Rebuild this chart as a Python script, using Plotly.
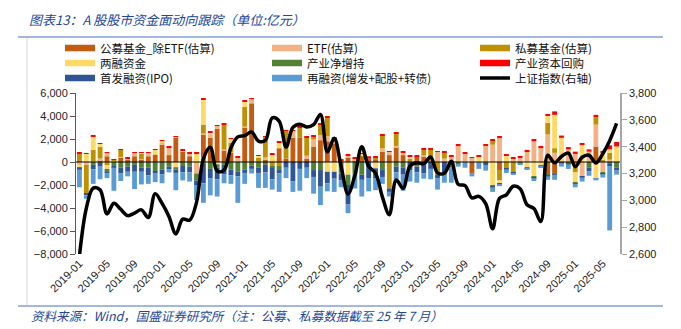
import plotly.graph_objects as go

# Monthly categories 2019-01 .. 2025-07
months = [f"{y}-{m:02d}" for y in range(2019, 2026) for m in range(1, 13)][:79]
tick_labels = months[::4]

# Fund flows, 亿元
gm = [0, 0, 0, 150, 500, 0, 350, 200, 500, 200, 500, 650,
      1500, 600, 2100, 950, 500, 0, 2400, 2100, 2900, 1000, 800, 0,
      3000, 5100, 0, 200, 0, 1200, 300, 2100, 2100, 300, 1350, 1900,
      1800, 1600, 0, 400, 150, 450, 300, 250, 900, 600, 1300, 600,
      0, 500, 500, 0, 0, 0, 0, 0, 0, -950, 0, 0,
      0, -700, 0, 0, 0, 0, 0, 0, -1100, -1000, 0, 0,
      0, 0, 0, 1350, 0, 0, 0]
etf = [-300, -250, 60, 150, 300, 150, 100, 100, 300, 50, 300, 0,
       200, 700, 100, 0, 250, -1000, 100, 300, 250, 100, 100, 400,
       100, 400, 0, 200, 100, 0, 0, 600, 0, 250, 600, 450,
       450, 450, 0, 150, 150, 0, 0, 0, 300, 300, 100, 200,
       0, 0, 100, 0, 900, 300, 500, 1450, 750, 350, 0, 1450,
       1500, 2100, 0, 300, 350, 950, 1800, 1200, 2400, 800, 100, 1100,
       700, -1250, 900, 1900, -900, 200, 0]
sm = [750, -2500, 1000, 1000, -300, 50, 600, 0, 0, 500, 0, 0,
      0, 0, 0, 0, 0, 0, 750, 0, 0, 2200, 800, 0,
      1700, 0, 400, 1800, -400, -300, 2400, 0, 900, 1600, 300, 900,
      1600, 0, 150, 0, 0, 100, 0, 150, 1100, -2300, 1100, 0,
      300, 0, 500, 1100, -1100, 500, 0, 0, 0, 0, 0, 0,
      400, -900, -600, -900, 0, 0, 0, 0, 1000, 400, 0, 0,
      -900, 0, 0, 650, 200, 600, 0]
rz = [-200, 700, 1200, 300, -300, 0, 0, 0, 0, 50, 0, 400,
      150, 0, -450, 50, 0, 750, 2200, 200, -200, 0, 300, 0,
      500, 0, 150, 0, 550, 500, 0, 0, 0, 0, 0, 0,
      -850, -850, 0, -1100, 0, 150, 0, -550, 0, 0, 0, 0,
      200, 0, 0, 0, 0, 0, 0, 0, 0, 0, 500, 0,
      -2000, -300, 600, 0, 0, -500, -1300, -300, 600, 2900, 2000, 0,
      -900, 1500, 0, -1400, 600, 300, 1350]
cy = [-50, 0, -250, -100, -200, -350, -500, -400, -250, -500, -500, -800,
      -650, -400, -200, -350, -400, -600, -150, -600, -300, -250, -650, -850,
      -650, -300, -500, -250, -100, -400, 0, 0, 0, 0, -700, -700,
      0, 0, -1000, -900, -1000, -1100, 0, 0, -700, 0, -400, -500,
      0, -400, 0, 0, 0, 0, -500, -250, 0, 0, 0, -100,
      -100, 0, 0, -50, -100, -50, -50, -50, -100, -50, -50, -100,
      -50, -50, -500, 0, -100, -200, -500]
hg = [80, 60, 50, 50, 40, 50, 40, 50, 50, 50, 50, 80,
      50, 50, 50, 50, 50, 50, 50, 50, 50, 50, 50, 50,
      50, 60, 50, 50, 50, 100, 50, 80, 100, 50, 100, 100,
      100, 50, 50, 80, 50, 80, 200, 80, 100, 50, 100, 100,
      50, 50, 50, 50, 50, 80, 50, 80, 60, 80, 50, 100,
      100, 100, 100, 100, 100, 100, 200, 200, 150, 300, 200, 200,
      200, 150, 200, 200, 150, 350, 400]
ipo = [-100, -150, -400, -300, -200, -150, -500, -450, -600, -350, -650, -150,
       -400, -250, -300, -550, -500, -400, -1700, -800, -1000, -800, -500, -400,
       -300, -300, -450, -650, -1000, -300, -500, -1700, -600, -500, -600, -1450,
       -1000, -600, -600, -1700, 0, -450, -1400, -900, -600, -300, -500, -600,
       -700, -500, -1000, -600, -300, -900, 0, 0, 0, 0, 0, -150,
       -100, -50, -50, -50, -30, -30, -50, -30, -50, -50, -50, -100,
       -50, -50, -300, -50, -50, -150, -250]
zrz = [-1550, -300, -1250, -1100, -400, -2000, -650, -400, -1500, -1100, -750, -800,
       -800, -250, -1500, -700, -800, -1300, -1700, -1500, -1500, -800, -750, -2300,
       -950, -400, -1300, -1350, -900, -1600, -900, -900, -1900, -900, -1450, -1600,
       -700, -1150, -600, -750, -1300, -1450, -1150, -1000, -600, -400, -900, -1400,
       -1000, -900, -450, -900, -1000, -900, -1300, -150, -500, -300, -600, -500,
       -400, -150, -300, -100, -100, -100, -250, -100, -300, -450, -300, -400,
       -300, -350, -400, -150, -300, -5600, -350]

# 上证指数 month-end close
sh = [2585, 2941, 3091, 3078, 2899, 2979, 2933, 2886, 2905, 2929, 2872, 3050,
      2977, 2880, 2750, 2860, 2852, 2985, 3310, 3396, 3218, 3225, 3392, 3473,
      3483, 3509, 3442, 3447, 3615, 3591, 3397, 3544, 3568, 3547, 3564, 3640,
      3361, 3462, 3253, 3047, 3186, 3399, 3253, 3202, 3024, 2893, 3151, 3089,
      3256, 3280, 3273, 3323, 3205, 3202, 3291, 3120, 3110, 3018, 3030, 2975,
      2789, 3015, 3041, 3105, 3087, 2967, 2939, 2842, 3336, 3280, 3327, 3352,
      3251, 3321, 3336, 3279, 3347, 3444, 3573]

series = [
    ("公募基金_除ETF(估算)", gm, "#C55A11"),
    ("ETF(估算)", etf, "#F4B183"),
    ("私募基金(估算)", sm, "#BF9000"),
    ("两融资金", rz, "#FFD966"),
    ("产业净增持", cy, "#548235"),
    ("产业资本回购", hg, "#FF0000"),
    ("首发融资(IPO)", ipo, "#2F5597"),
    ("再融资(增发+配股+转债)", zrz, "#5B9BD5"),
]
line_name = "上证指数(右轴)"

W, H = 681, 329
ML, MR, MT, MB = 76, 61, 93, 75
PW = W - ML - MR
PH = H - MT - MB


def fx(px):
    return (px - ML) / PW


def fy(py):
    return (H - MB - py) / PH


fig = go.Figure()
for name, vals, color in series:
    fig.add_trace(go.Bar(x=months, y=vals, name=name, showlegend=False,
                         marker=dict(color=color, line=dict(width=0))))
fig.add_trace(go.Scatter(x=months, y=sh, name=line_name, yaxis="y2", mode="lines",
                         showlegend=False,
                         line=dict(color="black", width=3.5, shape="spline", smoothing=1.0)))

shapes = []
annotations = []
CJK = "Noto Sans CJK SC"
BLUE = "#24479A"

# legend drawn as a 3x3 grid: swatches as shapes, one text block per column
col_x = [65, 272, 480]
row_y = [48, 63, 78]
entries = [(n, c, 6.5) for n, _, c in series] + [(line_name, "black", 3.5)]
for k, (name, color, lw) in enumerate(entries):
    x0 = col_x[k % 3]
    y0 = row_y[k // 3]
    shapes.append(dict(type="line", xref="paper", yref="paper",
                       x0=fx(x0), x1=fx(x0 + 30), y0=fy(y0), y1=fy(y0),
                       line=dict(color=color, width=lw)))
for c in range(3):
    names = [entries[k][0] for k in range(c, len(entries), 3)]
    annotations.append(dict(xref="paper", yref="paper", x=fx(col_x[c] + 33), y=fy(row_y[1]),
                            xanchor="left", yanchor="middle", align="left", showarrow=False,
                            text="<br>".join(names),
                            font=dict(family=CJK, size=11.5, color="#111")))

# zero line over the bars
shapes.append(dict(type="line", xref="paper", yref="y", x0=0, x1=1, y0=0, y1=0,
                   line=dict(color="black", width=1), layer="above"))
# title / source rules and frame edge
shapes.append(dict(type="line", xref="paper", yref="paper", x0=fx(18), x1=fx(663),
                   y0=fy(37), y1=fy(37), line=dict(color="#4472C4", width=1.2)))
shapes.append(dict(type="line", xref="paper", yref="paper", x0=fx(18), x1=fx(663),
                   y0=fy(306), y1=fy(306), line=dict(color="#4472C4", width=1.2)))
shapes.append(dict(type="line", xref="paper", yref="paper", x0=fx(27), x1=fx(27),
                   y0=fy(38), y1=fy(305), line=dict(color="#D9D9D9", width=1)))

annotations.append(dict(xref="paper", yref="paper", x=fx(27), y=fy(20),
                        xanchor="left", yanchor="middle", showarrow=False,
                        text="<i>图表13：A 股股市资金面动向跟踪（单位:亿元）</i>",
                        font=dict(family=CJK, size=13, color=BLUE)))
annotations.append(dict(xref="paper", yref="paper", x=fx(29), y=fy(315),
                        xanchor="left", yanchor="middle", showarrow=False,
                        text="<i>资料来源：Wind，国盛证券研究所（注：公募、私募数据截至 25 年 7 月）</i>",
                        font=dict(family=CJK, size=12.5, color=BLUE)))

fig.update_layout(
    width=W, height=H,
    margin=dict(l=ML, r=MR, t=MT, b=MB, pad=0),
    paper_bgcolor="white", plot_bgcolor="white",
    barmode="relative", bargap=0.3,
    showlegend=False,
    font=dict(family="Liberation Sans, " + CJK, size=11, color="#222"),
    xaxis=dict(type="category", tickmode="array", tickvals=tick_labels, ticktext=tick_labels,
               tickangle=-45, tickfont=dict(size=11, color="#222"), showgrid=False,
               showline=False, zeroline=False, ticks="", range=[-0.5, 78.5]),
    yaxis=dict(range=[-8000, 6000], dtick=2000, tickformat=",", showgrid=False, zeroline=False,
               showline=True, linecolor="#595959", linewidth=1, ticks="outside", ticklen=5,
               tickcolor="#595959", tickfont=dict(size=11, color="#222")),
    yaxis2=dict(overlaying="y", side="right", range=[2600, 3800], dtick=200, tickformat=",",
                showgrid=False, zeroline=False, showline=True, linecolor="#A6A6A6", linewidth=1.5,
                ticks="outside", ticklen=5, tickcolor="#A6A6A6", tickfont=dict(size=11, color="#222")),
    shapes=shapes,
    annotations=annotations,
)

fig.write_html("out.html")
